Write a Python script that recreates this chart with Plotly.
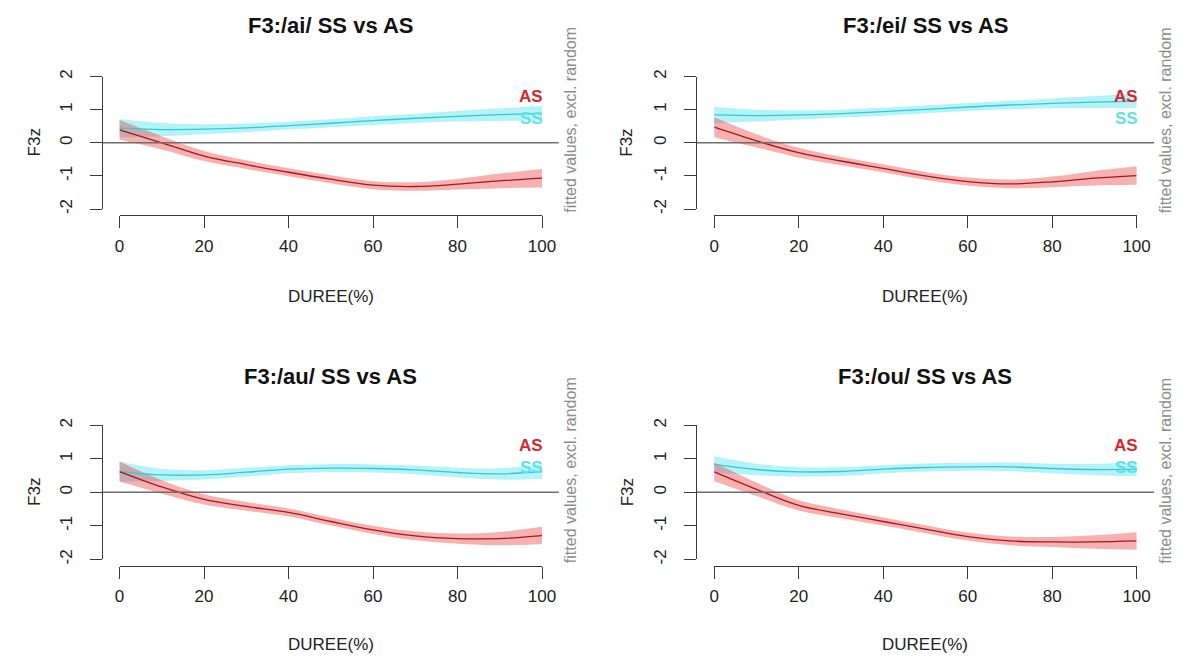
import plotly.graph_objects as go

# ---------------- data ----------------
x_pct = [0, 10, 20, 30, 40, 50, 60, 70, 80, 90, 100]

panel_titles = ["F3:/ai/ SS vs AS", "F3:/ei/ SS vs AS", "F3:/au/ SS vs AS", "F3:/ou/ SS vs AS"]

ai_ss = [0.44, 0.40, 0.41, 0.45, 0.52, 0.59, 0.67, 0.74, 0.80, 0.85, 0.89]
ai_ss_hw = [0.28, 0.20, 0.15, 0.13, 0.12, 0.12, 0.13, 0.14, 0.16, 0.19, 0.22]
ai_as = [0.39, 0.00, -0.40, -0.66, -0.89, -1.10, -1.28, -1.32, -1.25, -1.15, -1.07]
ai_as_hw = [0.30, 0.20, 0.15, 0.13, 0.12, 0.12, 0.12, 0.13, 0.16, 0.22, 0.28]

ei_ss = [0.84, 0.82, 0.84, 0.88, 0.94, 1.01, 1.08, 1.14, 1.19, 1.23, 1.26]
ei_ss_hw = [0.25, 0.18, 0.14, 0.12, 0.12, 0.12, 0.12, 0.13, 0.15, 0.18, 0.22]
ei_as = [0.47, 0.06, -0.30, -0.55, -0.77, -1.00, -1.17, -1.24, -1.18, -1.07, -0.99]
ei_as_hw = [0.30, 0.20, 0.15, 0.13, 0.12, 0.12, 0.12, 0.13, 0.16, 0.22, 0.28]

au_ss = [0.62, 0.52, 0.52, 0.60, 0.69, 0.72, 0.71, 0.67, 0.59, 0.55, 0.62]
au_ss_hw = [0.30, 0.18, 0.14, 0.13, 0.12, 0.12, 0.12, 0.13, 0.14, 0.17, 0.22]
au_as = [0.62, 0.16, -0.21, -0.42, -0.60, -0.87, -1.12, -1.30, -1.38, -1.38, -1.29]
au_as_hw = [0.30, 0.20, 0.15, 0.13, 0.12, 0.12, 0.12, 0.13, 0.15, 0.20, 0.26]

ou_ss = [0.83, 0.68, 0.61, 0.62, 0.69, 0.74, 0.76, 0.76, 0.71, 0.68, 0.69]
ou_ss_hw = [0.25, 0.17, 0.14, 0.13, 0.12, 0.12, 0.12, 0.13, 0.14, 0.17, 0.21]
ou_as = [0.61, 0.09, -0.39, -0.64, -0.87, -1.10, -1.32, -1.45, -1.48, -1.48, -1.45]
ou_as_hw = [0.28, 0.20, 0.15, 0.13, 0.12, 0.12, 0.12, 0.13, 0.15, 0.20, 0.26]

x_ticks = [0, 20, 40, 60, 80, 100]
y_ticks = [-2, -1, 0, 1, 2]
y_ticktext = ["-2", "-1", "0", "1", "2"]
group_labels = ["AS", "SS"]
label_y = [1.40, 0.74]

panels = [
    (ai_ss, ai_ss_hw, ai_as, ai_as_hw),
    (ei_ss, ei_ss_hw, ei_as, ei_as_hw),
    (au_ss, au_ss_hw, au_as, au_as_hw),
    (ou_ss, ou_ss_hw, ou_as, ou_as_hw),
]

# ---------------- style / layout ----------------
PAGE_MARGIN = 8                      # default body margin of the html page
W, H = 1195 - 2 * PAGE_MARGIN, 662 - 2 * PAGE_MARGIN
FONT = "Liberation Sans, Arial, sans-serif"
AXC = "#3a3a3a"
TXT = "#222222"
AS_LINE, AS_FILL, AS_TXT = "#a8161e", "rgba(235,50,50,0.38)", "#d6262c"
SS_LINE, SS_FILL, SS_TXT = "#35c9d2", "rgba(40,220,235,0.35)", "#62dfe8"


def px_x(p):
    return (p - PAGE_MARGIN) / W


def px_y(p):
    return 1 - (p - PAGE_MARGIN) / H


# page-pixel geometry: (x=0, x=100, y=2, y=-2, y-axis line x, x-axis line y)
geo = [
    (116.3, 545.7, 70.7, 205.7, 99.3, 212.0),
    (720.7, 1150.0, 70.7, 205.7, 703.0, 212.0),
    (116.3, 545.7, 426.0, 562.7, 99.3, 569.0),
    (720.7, 1150.0, 426.0, 562.7, 703.0, 569.0),
]
title_y = [19, 19, 376, 376]
xtitle_y = [295, 295, 649, 649]
ytitle_x = [30, 632, 30, 632]

fig = go.Figure()
layout_axes = {}
annotations = []
shapes = []

tickstyle = dict(showgrid=False, zeroline=False, showline=True, linecolor=AXC, linewidth=1.3,
                 ticks="outside", tickcolor=AXC, tickwidth=1.3, ticklen=12,
                 tickfont=dict(family=FONT, size=17, color=TXT))


def key(letter, num):
    return letter + "axis" + ("" if num == 1 else str(num))


def ref(letter, num):
    return letter + ("" if num == 1 else str(num))


for i, (ss, ss_hw, as_, as_hw) in enumerate(panels):
    nA, nB = 2 * i + 1, 2 * i + 2
    x0p, x1p, ytp, ybp, yax, xay = geo[i]
    ppx = (x1p - x0p) / 100.0
    ppy = (ybp - ytp) / 4.0
    padx = (x0p - yax) / ppx
    pady = (xay - ybp) / ppy

    # subplot A: confidence bands + visible y-axis (line spans -2..2)
    xa, ya = ref("x", nA), ref("y", nA)
    layout_axes[key("x", nA)] = dict(visible=False, domain=[px_x(yax), px_x(x1p + (x0p - yax))],
                                     range=[-padx, 100 + padx], anchor=ya, showgrid=False, zeroline=False)
    layout_axes[key("y", nA)] = dict(tickstyle, domain=[px_y(ybp), px_y(ytp)], range=[-2, 2],
                                     anchor=xa, tickvals=y_ticks, ticktext=y_ticktext, tickangle=-90,
                                     ticklabelstandoff=11)
    # subplot B: fitted lines + visible x-axis (line spans 0..100), detached below the data
    xb, yb = ref("x", nB), ref("y", nB)
    layout_axes[key("x", nB)] = dict(tickstyle, domain=[px_x(x0p), px_x(x1p)], range=[0, 100], anchor=yb,
                                     tickvals=x_ticks, ticklabelstandoff=3)
    layout_axes[key("y", nB)] = dict(visible=False, domain=[px_y(xay), px_y(ytp - (xay - ybp))],
                                     range=[-2 - pady, 2 + pady], anchor=xb, showgrid=False, zeroline=False)

    for fit, hw, fill in [(ss, ss_hw, SS_FILL), (as_, as_hw, AS_FILL)]:
        lo = [f - h for f, h in zip(fit, hw)]
        hi = [f + h for f, h in zip(fit, hw)]
        fig.add_trace(go.Scatter(x=x_pct, y=lo, mode="lines", line=dict(width=0, shape="spline", color=fill),
                                 xaxis=xa, yaxis=ya, hoverinfo="skip", showlegend=False))
        fig.add_trace(go.Scatter(x=x_pct, y=hi, mode="lines", line=dict(width=0, shape="spline", color=fill),
                                 fill="tonexty", fillcolor=fill, xaxis=xa, yaxis=ya,
                                 hoverinfo="skip", showlegend=False))
    for fit, lc in [(ss, SS_LINE), (as_, AS_LINE)]:
        fig.add_trace(go.Scatter(x=x_pct, y=fit, mode="lines", line=dict(width=1.3, shape="spline", color=lc),
                                 xaxis=xb, yaxis=yb, showlegend=False))

    # zero reference line across the plot region
    shapes.append(dict(type="line", xref=xa + " domain", yref=ya, x0=0, x1=1, y0=0, y1=0,
                       line=dict(color="#6e6e6e", width=1.6), layer="above"))

    xc = px_x((x0p + x1p) / 2)
    annotations.append(dict(text="<b>" + panel_titles[i] + "</b>", xref="paper", yref="paper",
                            x=xc, y=px_y(title_y[i]), xanchor="center", yanchor="middle",
                            showarrow=False, font=dict(family=FONT, size=22, color="#111111")))
    annotations.append(dict(text="DUREE(%)", xref="paper", yref="paper", x=xc, y=px_y(xtitle_y[i]),
                            xanchor="center", yanchor="middle", showarrow=False,
                            font=dict(family=FONT, size=17, color=TXT)))
    annotations.append(dict(text="F3z", xref="paper", yref="paper", x=px_x(ytitle_x[i]),
                            y=px_y((ytp + ybp) / 2), xanchor="center", yanchor="middle",
                            textangle=-90, showarrow=False, font=dict(family=FONT, size=17, color=TXT)))
    annotations.append(dict(text="fitted values, excl. random", xref="paper", yref="paper",
                            x=px_x(x1p + 29), y=px_y(xay), xanchor="center", yanchor="bottom",
                            textangle=-90, showarrow=False, font=dict(family=FONT, size=16, color="#8c8c8c")))
    for lab, ly, col in zip(group_labels, label_y, [AS_TXT, SS_TXT]):
        annotations.append(dict(text="<b>" + lab + "</b>", xref=xa, yref=ya, x=100, y=ly,
                                xanchor="right", yanchor="middle", xshift=3, showarrow=False,
                                font=dict(family=FONT, size=17, color=col)))

fig.update_layout(width=W, height=H, margin=dict(l=0, r=0, t=0, b=0),
                  paper_bgcolor="white", plot_bgcolor="rgba(0,0,0,0)", showlegend=False,
                  annotations=annotations, shapes=shapes, **layout_axes)

fig.write_html("out.html", config={"displayModeBar": False})
